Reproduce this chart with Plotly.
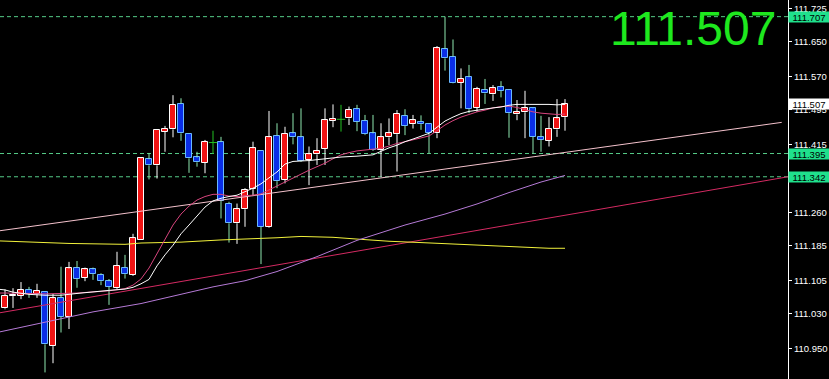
import plotly.graph_objects as go

# ---------------- data ----------------
bar_index = list(range(71))
opens = [111.042, 111.070, 111.070, 111.084, 111.074, 111.079, 110.956, 111.066, 111.023, 111.135,
         111.112, 111.131, 111.118, 111.104, 111.088, 111.135, 111.118, 111.199, 111.382, 111.368,
         111.445, 111.450, 111.508, 111.440, 111.386, 111.374, 111.420, 111.421, 111.281, 111.236,
         111.268, 111.314, 111.401, 111.228, 111.436, 111.335, 111.441, 111.432, 111.380, 111.393,
         111.405, 111.469, 111.473, 111.475, 111.496, 111.470, 111.441, 111.403, 111.432, 111.439,
         111.481, 111.462, 111.468, 111.462, 111.441, 111.633, 111.616, 111.556, 111.569, 111.499,
         111.540, 111.530, 111.546, 111.540, 111.484, 111.489, 111.498, 111.432, 111.424, 111.450,
         111.478]
highs = [111.085, 111.088, 111.102, 111.091, 111.098, 111.080, 111.075, 111.137, 111.148, 111.150,
         111.135, 111.135, 111.122, 111.109, 111.171, 111.164, 111.212, 111.387, 111.396, 111.450,
         111.458, 111.528, 111.521, 111.441, 111.399, 111.426, 111.447, 111.433, 111.285, 111.281,
         111.316, 111.422, 111.402, 111.492, 111.464, 111.456, 111.487, 111.498, 111.411, 111.430,
         111.498, 111.507, 111.506, 111.502, 111.506, 111.483, 111.483, 111.464, 111.475, 111.494,
         111.496, 111.483, 111.482, 111.463, 111.640, 111.707, 111.655, 111.589, 111.597, 111.547,
         111.565, 111.551, 111.560, 111.541, 111.517, 111.538, 111.499, 111.481, 111.478, 111.519,
         111.519]
lows = [111.040, 111.043, 111.063, 111.066, 111.066, 110.896, 110.917, 110.987, 110.995, 111.089,
        111.104, 111.107, 111.095, 111.050, 111.086, 111.110, 111.116, 111.198, 111.336, 111.338,
        111.399, 111.432, 111.424, 111.351, 111.365, 111.350, 111.394, 111.247, 111.192, 111.189,
        111.228, 111.298, 111.143, 111.226, 111.316, 111.327, 111.416, 111.376, 111.323, 111.369,
        111.369, 111.455, 111.445, 111.460, 111.446, 111.437, 111.401, 111.342, 111.414, 111.354,
        111.437, 111.452, 111.449, 111.395, 111.430, 111.584, 111.555, 111.498, 111.487, 111.490,
        111.508, 111.515, 111.523, 111.431, 111.471, 111.430, 111.395, 111.399, 111.411, 111.433,
        111.447]
closes = [111.071, 111.072, 111.085, 111.075, 111.082, 110.960, 111.065, 111.023, 111.133, 111.110,
          111.131, 111.120, 111.104, 111.091, 111.139, 111.120, 111.202, 111.384, 111.368, 111.449,
          111.452, 111.506, 111.441, 111.384, 111.375, 111.421, 111.420, 111.287, 111.236, 111.268,
          111.312, 111.407, 111.228, 111.432, 111.332, 111.440, 111.432, 111.379, 111.393, 111.401,
          111.471, 111.474, 111.473, 111.494, 111.468, 111.439, 111.403, 111.432, 111.441, 111.485,
          111.458, 111.471, 111.462, 111.441, 111.635, 111.612, 111.556, 111.566, 111.496, 111.542,
          111.532, 111.544, 111.538, 111.487, 111.489, 111.498, 111.433, 111.426, 111.452, 111.475,
          111.507]

# fast moving average (white)
white_ma_x = [-1, 0, 1, 3, 5, 7, 9, 11, 13, 15, 16, 17, 18, 19, 20, 21, 22, 23, 24, 25, 26, 27, 28, 29,
              30, 31, 32, 33, 34, 35, 36, 38, 40, 42, 44, 46, 47, 48, 49, 50, 51, 52, 53, 54, 55, 56,
              57, 58, 59, 60, 61, 62, 63, 64, 66, 67, 68, 69, 70]
white_ma = [111.086, 111.084, 111.079, 111.074, 111.072, 111.072, 111.076, 111.080, 111.083, 111.086,
            111.090, 111.098, 111.108, 111.139, 111.164, 111.186, 111.212, 111.232, 111.253, 111.273,
            111.287, 111.293, 111.297, 111.300, 111.308, 111.316, 111.326, 111.339, 111.353, 111.371,
            111.377, 111.379, 111.383, 111.387, 111.389, 111.392, 111.400, 111.408, 111.414, 111.422,
            111.428, 111.434, 111.441, 111.455, 111.469, 111.478, 111.486, 111.491, 111.494, 111.497,
            111.499, 111.501, 111.505, 111.507, 111.507, 111.508, 111.507, 111.506, 111.507]

# medium moving average (pink)
pink_ma_x = [-1, 0, 5, 9, 13, 15, 16, 17, 18, 19, 20, 21, 22, 23, 24, 25, 26, 27, 28, 29, 30, 31, 32,
             33, 34, 35, 36, 37, 38, 39, 40, 41, 42, 43, 44, 45, 46, 47, 48, 49, 50, 51, 52, 53, 54,
             55, 56, 57, 58, 59, 60, 61, 62, 63, 64, 65, 66, 67, 68, 69, 70]
pink_ma = [111.077, 111.077, 111.075, 111.077, 111.082, 111.087, 111.095, 111.109, 111.134, 111.166,
           111.198, 111.232, 111.257, 111.275, 111.289, 111.297, 111.302, 111.302, 111.298, 111.297,
           111.299, 111.300, 111.303, 111.312, 111.321, 111.331, 111.340, 111.349, 111.357, 111.365,
           111.373, 111.383, 111.392, 111.397, 111.401, 111.403, 111.405, 111.407, 111.412, 111.418,
           111.422, 111.426, 111.430, 111.435, 111.447, 111.460, 111.470, 111.478, 111.484, 111.490,
           111.494, 111.499, 111.502, 111.503, 111.500, 111.495, 111.490, 111.487, 111.485, 111.484,
           111.485]

# slow moving average (yellow)
yellow_ma_x = [-1, 0, 2, 8, 15, 17, 22, 27, 31, 34, 37, 41, 44, 48, 52, 56, 59, 62, 65, 68, 70]
yellow_ma = [111.196, 111.195, 111.194, 111.190, 111.188, 111.191, 111.193, 111.198, 111.200, 111.203,
             111.206, 111.204, 111.200, 111.195, 111.192, 111.189, 111.186, 111.184, 111.181, 111.179,
             111.179]

# moving average (lavender)
purple_ma_x = [-1, 0, 4, 8, 11, 17, 22, 26, 30, 34, 39, 44, 50, 55, 59, 63, 67, 70]
purple_ma = [110.987, 110.991, 111.006, 111.022, 111.034, 111.053, 111.074, 111.091, 111.105, 111.126,
             111.160, 111.197, 111.232, 111.257, 111.280, 111.306, 111.330, 111.345]

# trend lines
trend_pale_x = [-0.625, 97.09]
trend_pale_y = [111.219, 111.466]
trend_red_x = [-0.625, 97.875]
trend_red_y = [111.032, 111.342]

# horizontal levels and price labels
level_lines = [111.707, 111.395, 111.342]
current_price = 111.507
tick_vals = [111.725, 111.650, 111.570, 111.495, 111.415, 111.340, 111.260, 111.185, 111.105,
             111.030, 110.950]
tick_text = ["111.725", "111.650", "111.570", "111.495", "111.415", "111.340", "111.260", "111.185",
             "111.105", "111.030", "110.950"]
bottom_tick_text = "110.875"

# ---------------- build figure ----------------
BULL_FILL = "#f01414"
BULL_LINE = "#ffffff"
BEAR_FILL = "#0a2ee6"
BEAR_LINE = "#6ab8ff"
BEAR_WICK = "#8ee8b0"
DOJI = "#22c022"

fig = go.Figure()

def wick_xy(idx_list):
    xs, ys = [], []
    for i in idx_list:
        top = max(opens[i], closes[i])
        bot = min(opens[i], closes[i])
        xs += [bar_index[i], bar_index[i], None, bar_index[i], bar_index[i], None]
        ys += [highs[i], top, None, bot, lows[i], None]
    return xs, ys

bull = [i for i in bar_index if closes[i] > opens[i]]
bear = [i for i in bar_index if closes[i] < opens[i]]
doji = [i for i in bar_index if closes[i] == opens[i]]

# bodies
for idx, fill, line in [(bull, BULL_FILL, BULL_LINE), (bear, BEAR_FILL, BEAR_LINE)]:
    fig.add_trace(go.Bar(
        x=[bar_index[i] for i in idx],
        base=[min(opens[i], closes[i]) for i in idx],
        y=[abs(closes[i] - opens[i]) for i in idx],
        width=0.64,
        marker=dict(color=fill, line=dict(color=line, width=1)),
        showlegend=False, hoverinfo="skip"))

# trend lines
fig.add_trace(go.Scatter(x=trend_pale_x, y=trend_pale_y, mode="lines",
                         line=dict(color="#f4c2cc", width=1), showlegend=False, hoverinfo="skip"))
fig.add_trace(go.Scatter(x=trend_red_x, y=trend_red_y, mode="lines",
                         line=dict(color="#d42a62", width=1), showlegend=False, hoverinfo="skip"))

# wicks
for idx, col in [(bull, BULL_LINE), (bear, BEAR_WICK)]:
    wx, wy = wick_xy(idx)
    fig.add_trace(go.Scatter(x=wx, y=wy, mode="lines", line=dict(color=col, width=1),
                             showlegend=False, hoverinfo="skip", connectgaps=False))
dx, dy = [], []
for i in doji:
    dx += [bar_index[i], bar_index[i], None]
    dy += [highs[i], lows[i], None]
fig.add_trace(go.Scatter(x=dx, y=dy, mode="lines", line=dict(color=DOJI, width=1),
                         showlegend=False, hoverinfo="skip"))
fig.add_trace(go.Scatter(x=[bar_index[i] for i in doji], y=[closes[i] for i in doji], mode="markers",
                         marker=dict(symbol="line-ew", size=6, line=dict(color=DOJI, width=1)),
                         showlegend=False, hoverinfo="skip"))

# moving averages
for xs, ys, col in [(yellow_ma_x, yellow_ma, "#f2f23c"), (purple_ma_x, purple_ma, "#b57ad6"),
                    (pink_ma_x, pink_ma, "#d8457e"), (white_ma_x, white_ma, "#ffffff")]:
    fig.add_trace(go.Scatter(x=xs, y=ys, mode="lines", line=dict(color=col, width=1),
                             showlegend=False, hoverinfo="skip"))

# horizontal dashed levels
for lv in level_lines:
    fig.add_shape(type="line", xref="paper", x0=0, x1=1, yref="y", y0=lv, y1=lv,
                  line=dict(color="#55cc88", width=1, dash="4px,3px"), layer="below")

# partially visible bottom tick label (cut by the window edge)
fig.add_annotation(xref="paper", x=1, xanchor="left", xshift=3, yref="paper", y=0,
                   yanchor="middle", yshift=-3, text=bottom_tick_text, showarrow=False,
                   font=dict(family="Liberation Sans", size=9.5, color="#ffffff"))

# right-hand price labels
for lv in level_lines:
    fig.add_annotation(xref="paper", x=1, xanchor="left", yref="y", y=lv, yanchor="middle",
                       text=f"{lv:.3f}", showarrow=False, bgcolor="#1fe08c", width=40, height=10,
                       borderpad=0, font=dict(family="Liberation Sans", size=9.5, color="#000000"))
fig.add_annotation(xref="paper", x=1, xanchor="left", yref="y", y=current_price, yanchor="middle",
                   text=f"{current_price:.3f}", showarrow=False, bgcolor="#ffffff", width=40,
                   height=10, borderpad=0,
                   font=dict(family="Liberation Sans", size=9.5, color="#000000"))

# big price readout
fig.add_annotation(xref="paper", x=778 / 788, xanchor="right", yref="paper", y=1 - 28 / 379,
                   yanchor="middle", text=f"{current_price:.3f}", showarrow=False,
                   font=dict(family="Liberation Sans", size=48, color="#1ee81e"))

fig.update_layout(
    width=829, height=379, margin=dict(l=0, r=41, t=0, b=0),
    paper_bgcolor="#000000", plot_bgcolor="#000000",
    barmode="overlay", bargap=0, showlegend=False,
    xaxis=dict(range=[-0.625, 97.875], visible=False, fixedrange=True),
    yaxis=dict(range=[110.881, 111.745], side="right", tickvals=tick_vals, ticktext=tick_text,
               ticks="outside", ticklen=3, tickcolor="#ffffff", showline=True,
               linecolor="#ffffff", linewidth=1, showgrid=False, zeroline=False,
               tickfont=dict(family="Liberation Sans", size=9.5, color="#ffffff")),
)

fig.write_html("out.html")
